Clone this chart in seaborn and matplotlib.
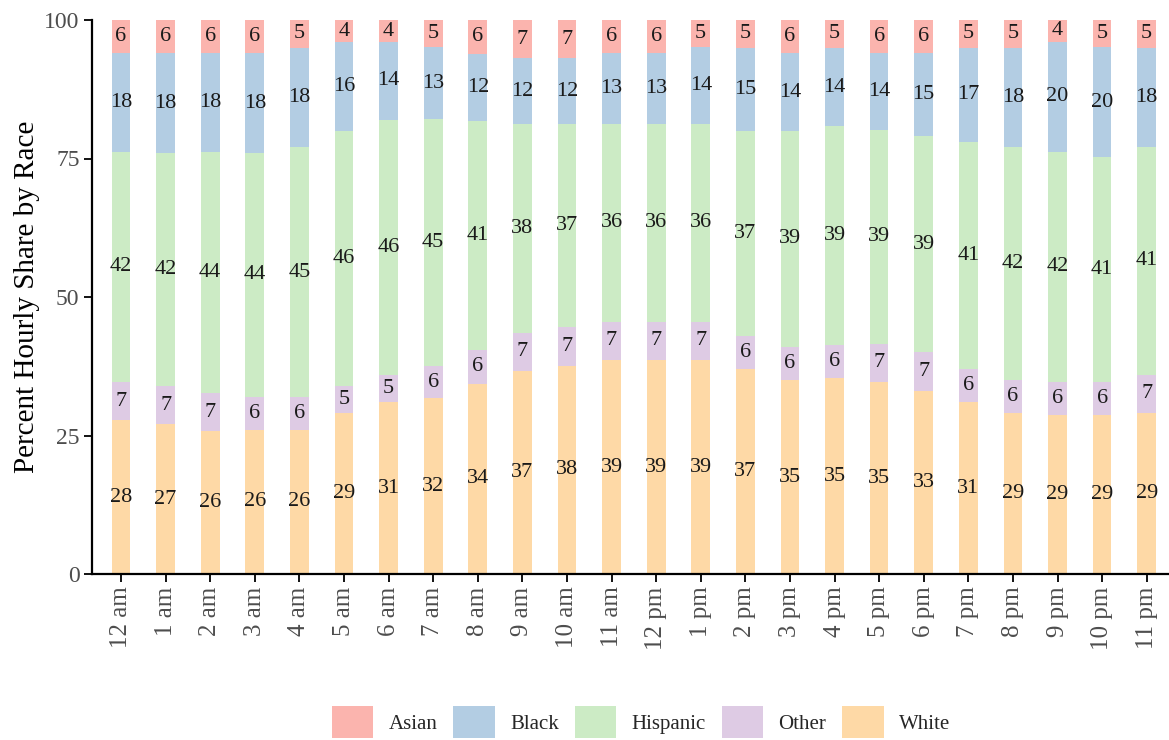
import numpy as np
import pandas as pd
import matplotlib
matplotlib.use("Agg")
import matplotlib.pyplot as plt
import seaborn as sns
from matplotlib.patches import Patch

hours = ["12 am", "1 am", "2 am", "3 am", "4 am", "5 am", "6 am", "7 am", "8 am", "9 am",
         "10 am", "11 am", "12 pm", "1 pm", "2 pm", "3 pm", "4 pm", "5 pm", "6 pm", "7 pm",
         "8 pm", "9 pm", "10 pm", "11 pm"]
asian = [6, 6, 6, 6, 5, 4, 4, 5, 6, 7, 7, 6, 6, 5, 5, 6, 5, 6, 6, 5, 5, 4, 5, 5]
black = [18, 18, 18, 18, 18, 16, 14, 13, 12, 12, 12, 13, 13, 14, 15, 14, 14, 14, 15, 17, 18, 20, 20, 18]
hispanic = [42, 42, 44, 44, 45, 46, 46, 45, 41, 38, 37, 36, 36, 36, 37, 39, 39, 39, 39, 41, 42, 42, 41, 41]
other = [7, 7, 7, 6, 6, 5, 5, 6, 6, 7, 7, 7, 7, 7, 6, 6, 6, 7, 7, 6, 6, 6, 6, 7]
white = [28, 27, 26, 26, 26, 29, 31, 32, 34, 37, 38, 39, 39, 39, 37, 35, 35, 35, 33, 31, 29, 29, 29, 29]

races = ["Asian", "Black", "Hispanic", "Other", "White"]
colors = {"Asian": "#FBB4AE", "Black": "#B3CDE3", "Hispanic": "#CCEBC5",
          "Other": "#DECBE4", "White": "#FED9A6"}

vals = {"Asian": asian, "Black": black, "Hispanic": hispanic, "Other": other, "White": white}
df = pd.DataFrame(vals, index=hours)
share = df.div(df.sum(axis=1), axis=0) * 100  # normalised hourly shares

# stacking order bottom -> top: White, Other, Hispanic, Black, Asian
stack_order = ["White", "Other", "Hispanic", "Black", "Asian"]
cum = share[stack_order].cumsum(axis=1)

sns.set_theme(style="white")
plt.rcParams["font.family"] = ["Liberation Serif", "DejaVu Serif"]

fig = plt.figure(figsize=(11.69, 7.40), dpi=100)
ax = fig.add_axes([92 / 1169, 1 - 574 / 740, (1169 - 92) / 1169, (574 - 20) / 740])

# draw tallest cumulative bars first
for race in reversed(stack_order):
    d = pd.DataFrame({"hour": hours, "top": cum[race].values})
    sns.barplot(data=d, x="hour", y="top", order=hours, color=colors[race],
                width=0.42, saturation=1, ax=ax, linewidth=0)

# labels at segment centres
for i, h in enumerate(hours):
    bottom = 0.0
    for race in stack_order:
        seg = share.loc[h, race]
        ax.text(i, bottom + seg / 2, str(df.loc[h, race]), ha="center", va="center",
                fontsize=16, color="#1a1a1a")
        bottom += seg

ax.set_xlim(-0.65, 23.5)
ax.set_ylim(0, 100)
ax.set_yticks([0, 25, 50, 75, 100])
ax.set_xlabel("")
ax.set_ylabel("Percent Hourly Share by Race", fontsize=21, color="black", labelpad=3)
ax.tick_params(axis="x", rotation=90, labelsize=18, colors="black", labelcolor="#4d4d4d",
               length=6, width=1.3, direction="out", bottom=True, pad=3)
ax.tick_params(axis="y", labelsize=17, colors="black", labelcolor="#4d4d4d",
               length=6, width=1.3, direction="out", left=True, pad=3)
for side in ["top", "right"]:
    ax.spines[side].set_visible(False)
for side in ["left", "bottom"]:
    ax.spines[side].set_color("black")
    ax.spines[side].set_linewidth(1.6)

handles = [Patch(facecolor=colors[r], edgecolor="none", label=r) for r in races]
fig.legend(handles=handles, loc="center", bbox_to_anchor=(641 / 1169, 1 - 722 / 740),
           ncol=5, frameon=False, fontsize=15, handlelength=2.0, handleheight=2.0,
           handletextpad=0.72, columnspacing=0.77, borderpad=0)

fig.savefig("out.png", dpi=100)
